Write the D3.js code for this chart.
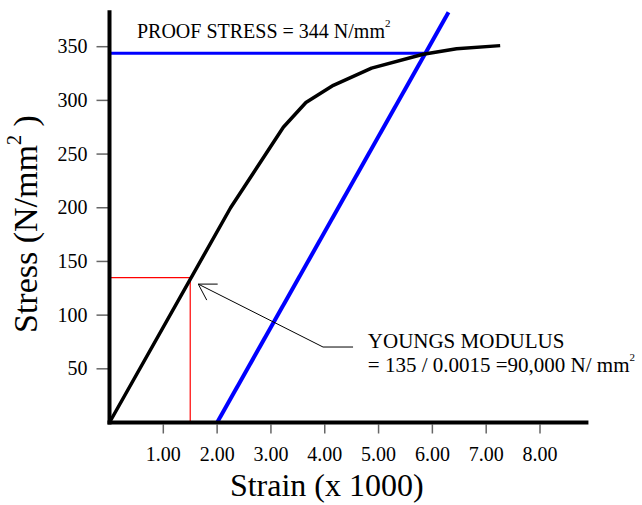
<!DOCTYPE html>
<html>
<head>
<meta charset="utf-8">
<script src="https://cdn.jsdelivr.net/npm/d3@7"></script>
<style>
  body { margin: 0; background: #fff; }
</style>
</head>
<body>
<svg id="chart" width="642" height="505"></svg>
<script>
// stress-strain curve (strain x 1000, stress N/mm2)
const strain = [0, 2.25, 3.23, 3.65, 4.16, 4.87, 5.83, 6.45, 7.26];
const stress = [0, 200, 275, 298, 314, 330, 343, 348, 351];

// 0.2% offset line, parallel to the elastic part
const offsetStrain = [2.0, 6.3];
const offsetStress = [0, 382];

const proofStress = 344;
const proofStrainEnd = 5.87;

// point used for youngs modulus
const ymStrain = 1.5;
const ymStress = 135;

const xTicks = [1, 2, 3, 4, 5, 6, 7, 8];
const yTicks = [50, 100, 150, 200, 250, 300, 350];

const FONT = "'Liberation Serif', 'Times New Roman', Times, 'DejaVu Serif', serif";

const svg = d3.select("#chart").attr("font-family", FONT);

const x = d3.scaleLinear().domain([0, 8]).range([109.5, 540]);
const y = d3.scaleLinear().domain([0, 350]).range([422.5, 46.7]);

// ticks
svg.append("g")
  .selectAll("line")
  .data(yTicks)
  .enter()
  .append("line")
  .attr("x1", x(0) - 13)
  .attr("x2", x(0))
  .attr("y1", d => y(d))
  .attr("y2", d => y(d))
  .attr("stroke", "#666")
  .attr("stroke-width", 1.5);

svg.append("g")
  .selectAll("text")
  .data(yTicks)
  .enter()
  .append("text")
  .attr("x", x(0) - 22)
  .attr("y", d => y(d))
  .attr("dy", "0.33em")
  .attr("text-anchor", "end")
  .style("font-size", "20px")
  .text(d => d);

svg.append("g")
  .selectAll("line")
  .data(xTicks)
  .enter()
  .append("line")
  .attr("x1", d => x(d))
  .attr("x2", d => x(d))
  .attr("y1", y(0) + 2)
  .attr("y2", y(0) + 11)
  .attr("stroke", "#666")
  .attr("stroke-width", 1.5);

svg.append("g")
  .selectAll("text")
  .data(xTicks)
  .enter()
  .append("text")
  .attr("x", d => x(d))
  .attr("y", y(0) + 38)
  .attr("text-anchor", "middle")
  .style("font-size", "20px")
  .text(d => d.toFixed(2));

// red construction lines
svg.append("path")
  .attr("d", d3.line()([[x(0), y(ymStress)], [x(ymStrain), y(ymStress)], [x(ymStrain), y(0)]]))
  .attr("fill", "none")
  .attr("stroke", "#ff0000")
  .attr("stroke-width", 1.2);

// blue proof stress lines
svg.append("line")
  .attr("x1", x(0)).attr("x2", x(proofStrainEnd))
  .attr("y1", y(proofStress)).attr("y2", y(proofStress))
  .attr("stroke", "#0000ff")
  .attr("stroke-width", 3);

svg.append("line")
  .attr("x1", x(offsetStrain[0])).attr("x2", x(offsetStrain[1]))
  .attr("y1", y(offsetStress[0])).attr("y2", y(offsetStress[1]))
  .attr("stroke", "#0000ff")
  .attr("stroke-width", 4);

// curve
const line = d3.line()
  .x(d => x(d[0]))
  .y(d => y(d[1]));

svg.append("path")
  .datum(strain.map((s, i) => [s, stress[i]]))
  .attr("d", line)
  .attr("fill", "none")
  .attr("stroke", "#000")
  .attr("stroke-width", 3.5)
  .attr("stroke-linejoin", "round");

// axes lines
svg.append("line")
  .attr("x1", x(0)).attr("x2", x(0))
  .attr("y1", y(384)).attr("y2", y(0) + 2)
  .attr("stroke", "#000")
  .attr("stroke-width", 4);

svg.append("line")
  .attr("x1", x(0) - 2).attr("x2", x(8.9))
  .attr("y1", y(0)).attr("y2", y(0))
  .attr("stroke", "#000")
  .attr("stroke-width", 4);

// annotation arrow
const arrowTail = [[4.526, 70.3], [3.968, 70.3], [1.65, 128.9]];
const arrowHead = [[2.01, 128.9], [1.65, 128.9], [1.807, 114]];

svg.append("path")
  .attr("d", line(arrowTail))
  .attr("fill", "none")
  .attr("stroke", "#000")
  .attr("stroke-width", 1);

svg.append("path")
  .attr("d", line(arrowHead))
  .attr("fill", "none")
  .attr("stroke", "#000")
  .attr("stroke-width", 1);

// texts
const proof = svg.append("text")
  .attr("x", x(0.51))
  .attr("y", y(358))
  .style("font-size", "20px")
  .text("PROOF STRESS = 344 N/mm");
proof.append("tspan")
  .attr("dy", -11)
  .style("font-size", "11px")
  .text("2");

svg.append("text")
  .attr("x", x(4.8))
  .attr("y", y(69.3))
  .style("font-size", "21px")
  .text("YOUNGS MODULUS");

const ym = svg.append("text")
  .attr("x", x(4.8))
  .attr("y", y(47))
  .style("font-size", "21px")
  .text("= 135 / 0.0015 =90,000 N/ mm");
ym.append("tspan")
  .attr("dy", -11)
  .style("font-size", "11px")
  .text("2");

// axis titles
svg.append("text")
  .attr("x", x(4) + 2)
  .attr("y", 496)
  .attr("text-anchor", "middle")
  .style("font-size", "32px")
  .text("Strain (x 1000)");

const yl = svg.append("text")
  .attr("transform", "translate(37,333) rotate(-90)")
  .style("font-size", "34px")
  .text("Stress (N/mm");
yl.append("tspan")
  .attr("dy", -16)
  .style("font-size", "20px")
  .text("2");
yl.append("tspan")
  .attr("dy", 16)
  .text(" )");
</script>
</body>
</html>
